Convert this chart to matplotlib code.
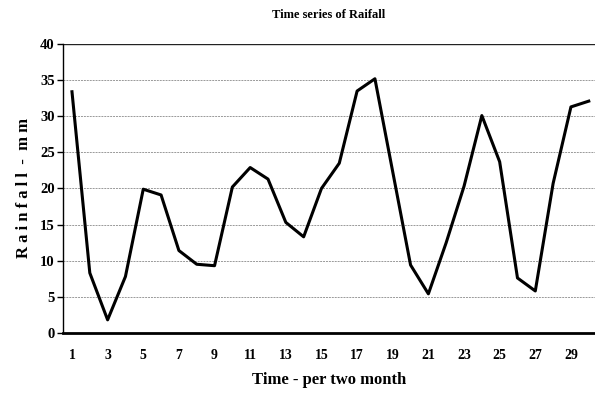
import numpy as np
import matplotlib.pyplot as plt

plt.rcParams['font.family'] = ['Liberation Serif', 'DejaVu Serif']
plt.rcParams['font.weight'] = 'bold'

time = np.arange(1, 31)
rainfall = [33.4, 8.3, 1.8, 7.8, 19.9, 19.1, 11.4, 9.5, 9.3, 20.2,
            22.9, 21.3, 15.3, 13.3, 20.0, 23.5, 33.5, 35.2, 22.3, 9.4,
            5.4, 12.5, 20.3, 30.1, 23.7, 7.6, 5.8, 20.7, 31.3, 32.1]
xticks = np.arange(1, 30, 2)
yticks = np.arange(0, 45, 5)

fig = plt.figure(figsize=(5.95, 4.01), dpi=100)
ax = fig.add_axes([0.106, 0.170, 0.894, 0.720])

for y in yticks[1:-1]:
    ax.axhline(y, color='#999999', lw=0.7, ls=(0, (2, 1)), zorder=1)
ax.axhline(40, color='#222222', lw=1.0, zorder=1)

ax.plot(time, rainfall, color='black', lw=2.2, zorder=3)

ax.set_xlim(0.5, 30.35)
ax.set_ylim(0, 40)
ax.set_xticks(xticks)
ax.set_yticks(yticks)
ax.tick_params(axis='x', length=0, pad=12, labelsize=10)
ax.tick_params(axis='y', length=4, width=1, labelsize=10.5, pad=2)

for s in ['top', 'right']:
    ax.spines[s].set_visible(False)
ax.spines['bottom'].set_linewidth(2.0)
ax.spines['left'].set_linewidth(1.0)

ax.set_title('Time series of Raifall', fontsize=9, fontweight='bold', pad=19)
ax.set_xlabel('Time - per two month', fontsize=12, fontweight='bold', labelpad=7)
ax.set_ylabel('R a i n f a l l  -  m m', fontsize=12, fontweight='bold', labelpad=6)

fig.savefig('out.png', dpi=100)
